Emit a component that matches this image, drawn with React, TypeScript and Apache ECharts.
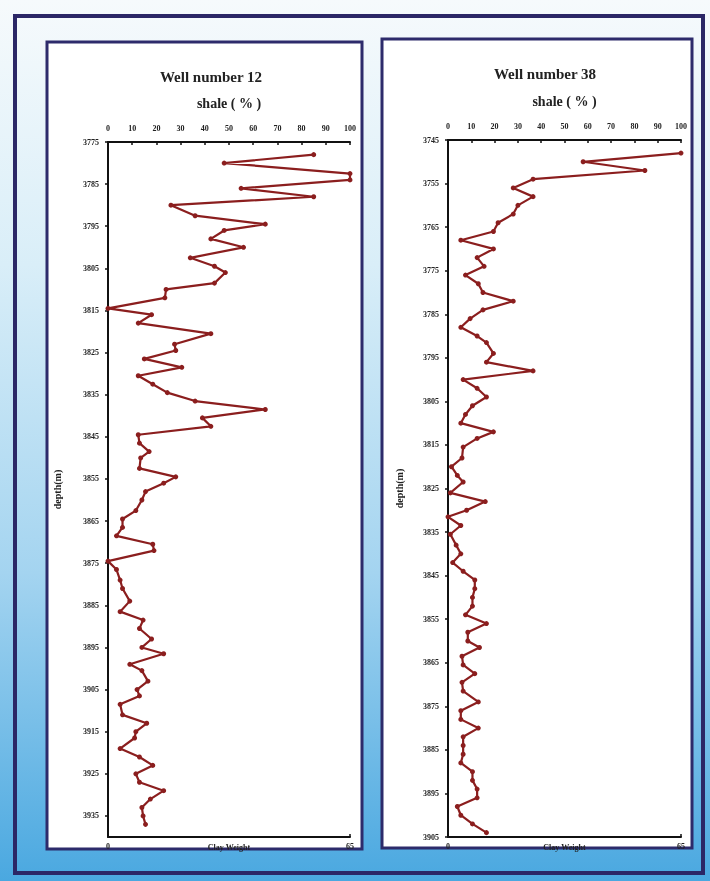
import React, { useEffect, useRef } from "react";
import * as echarts from "echarts";

// Well 12: depth (m) and shale (%)
const well12Depth = [
  3778, 3780, 3782.5, 3784, 3786, 3788, 3790, 3792.5, 3794.5, 3796, 3798, 3800, 3802.5, 3804.5, 3806, 3808.5,
  3810, 3812, 3814.5, 3816, 3818, 3820.5, 3823, 3824.5, 3826.5, 3828.5, 3830.5, 3832.5, 3834.5, 3836.5, 3838.5,
  3840.5, 3842.5, 3844.5, 3846.5, 3848.5, 3850, 3852.5, 3854.5, 3856, 3858, 3860, 3862.5, 3864.5, 3866.5, 3868.5,
  3870.5, 3872, 3874.5, 3876.5, 3879, 3881, 3884, 3886.5, 3888.5, 3890.5, 3893, 3895, 3896.5, 3899, 3900.5, 3903,
  3905, 3906.5, 3908.5, 3911, 3913, 3915, 3916.5, 3919, 3921, 3923, 3925, 3927, 3929, 3931, 3933, 3935, 3937,
];
const well12Shale = [
  85, 48, 100, 100, 55, 85, 26, 36, 65, 48, 42.5, 56, 34, 44, 48.5, 44,
  24, 23.5, 0, 18, 12.5, 42.5, 27.5, 28, 15, 30.5, 12.5, 18.5, 24.5, 36, 65,
  39, 42.5, 12.5, 13, 17, 13.5, 13, 28, 23, 15.5, 14, 11.5, 6, 6, 3.5,
  18.5, 19, 0, 3.5, 5, 6, 9, 5, 14.5, 13, 18, 14, 23, 9, 14, 16.5,
  12, 13, 5, 6, 16, 11.5, 11, 5, 13, 18.5, 11.5, 13, 23, 17.5, 14, 14.5, 15.5,
];

// Well 38: depth (m) and shale (%)
const well38Depth = [
  3748, 3750, 3752, 3754, 3756, 3758, 3760, 3762, 3764, 3766, 3768, 3770, 3772, 3774, 3776, 3778, 3780, 3782,
  3784, 3786, 3788, 3790, 3791.5, 3794, 3796, 3798, 3800, 3802, 3804, 3806, 3808, 3810, 3812, 3813.5, 3815.5,
  3818, 3820, 3822, 3823.5, 3826, 3828, 3830, 3831.5, 3833.5, 3835.5, 3838, 3840, 3842, 3844, 3846, 3848, 3850,
  3852, 3854, 3856, 3858, 3860, 3861.5, 3863.5, 3865.5, 3867.5, 3869.5, 3871.5, 3874, 3876, 3878, 3880, 3882,
  3884, 3886, 3888, 3890, 3892, 3894, 3896, 3898, 3900, 3902, 3904,
];
const well38Shale = [
  100, 58, 84.5, 36.5, 28, 36.5, 30, 28, 21.5, 19.5, 5.5, 19.5, 12.5, 15.5, 7.5, 13, 15, 28,
  15, 9.5, 5.5, 12.5, 16.5, 19.5, 16.5, 36.5, 6.5, 12.5, 16.5, 10.5, 7.5, 5.5, 19.5, 12.5, 6.5,
  6, 1.5, 4, 6.5, 1, 16, 8, 0, 5.5, 1, 3.5, 5.5, 2, 6.5, 11.5, 11.5, 10.5,
  10.5, 7.5, 16.5, 8.5, 8.5, 13.5, 6, 6.5, 11.5, 6, 6.5, 13, 5.5, 5.5, 13, 6.5,
  6.5, 6.5, 5.5, 10.5, 10.5, 12.5, 12.5, 4, 5.5, 10.5, 16.5,
];

const shaleTicks = { min: 0, max: 100, interval: 10 };
const clayTicks = { min: 0, max: 65, interval: 65 };
const well12Range = { min: 3775, max: 3940, interval: 10 };
const well38Range = { min: 3745, max: 3905, interval: 10 };

const SERIF = "'Liberation Serif', 'DejaVu Serif', serif";
const LINE_COLOR = "#8b1e1e";

function pairs(depth: number[], vals: number[]) {
  return depth.map((d, i) => [vals[i], d]);
}

const labelStyle = {
  fontFamily: SERIF,
  fontSize: 8,
  fontWeight: "bold" as const,
  color: "#222",
};

function topAxis(gridIndex: number) {
  return {
    type: "value",
    gridIndex,
    position: "top",
    ...shaleTicks,
    axisLine: { show: true, onZero: false, lineStyle: { color: "#111", width: 2 } },
    axisTick: { show: true, inside: true, length: 3, lineStyle: { color: "#111", width: 1.5 } },
    axisLabel: { ...labelStyle, margin: 10, formatter: (v: number) => String(v) },
    splitLine: { show: false },
    name: "shale ( % )",
    nameLocation: "middle",
    nameGap: 39,
    nameMoveOverlap: false,
    nameTextStyle: {
      fontFamily: SERIF,
      fontSize: 14,
      fontWeight: "bold",
      color: "#222",
      verticalAlign: "middle",
    },
  };
}

function bottomAxis(gridIndex: number) {
  return {
    type: "value",
    gridIndex,
    position: "bottom",
    ...clayTicks,
    axisLine: { show: true, onZero: false, lineStyle: { color: "#111", width: 2 } },
    axisTick: { show: true, inside: true, length: 3, lineStyle: { color: "#111", width: 1.5 } },
    axisLabel: { ...labelStyle, margin: 5, formatter: (v: number) => String(v) },
    splitLine: { show: false },
    name: "Clay Weight",
    nameLocation: "middle",
    nameGap: 10,
    nameMoveOverlap: false,
    nameTextStyle: { ...labelStyle, verticalAlign: "middle" },
  };
}

function depthAxis(gridIndex: number, range: { min: number; max: number; interval: number }, gap: number) {
  return {
    type: "value",
    gridIndex,
    inverse: true,
    ...range,
    axisLine: { show: true, onZero: false, lineStyle: { color: "#111", width: 2 } },
    axisTick: { show: true, length: 3, lineStyle: { color: "#111", width: 1.5 } },
    axisLabel: {
      ...labelStyle,
      margin: 9,
      showMaxLabel: range.max % range.interval === range.min % range.interval,
      formatter: (v: number) => String(v),
    },
    splitLine: { show: false },
    name: "depth(m)",
    nameLocation: "middle",
    nameGap: gap,
    nameRotate: 90,
    nameMoveOverlap: false,
    nameTextStyle: { fontFamily: SERIF, fontSize: 10, fontWeight: "bold", color: "#222" },
  };
}

export default function App() {
  const ref = useRef<HTMLDivElement>(null);
  useEffect(() => {
    if (!ref.current) return;
    const chart = echarts.init(ref.current, undefined, { renderer: "svg" });
    chart.setOption({
      animation: false,
      backgroundColor: "transparent",
      graphic: [
        {
          type: "rect",
          z: -10,
          shape: { x: 0, y: 0, width: 710, height: 881 },
          style: {
            fill: new echarts.graphic.LinearGradient(0, 0, 0, 1, [
              { offset: 0, color: "#f6fafc" },
              { offset: 0.3, color: "#d9eef8" },
              { offset: 0.65, color: "#a4d4f0" },
              { offset: 1, color: "#4aa8e0" },
            ]),
          },
        },
        {
          type: "rect",
          z: -9,
          shape: { x: 15, y: 16, width: 688, height: 857 },
          style: { fill: "none", stroke: "#2b2766", lineWidth: 4 },
        },
        {
          type: "rect",
          z: -8,
          shape: { x: 47, y: 42, width: 315, height: 807 },
          style: { fill: "#ffffff", stroke: "#2d2b6b", lineWidth: 3 },
        },
        {
          type: "rect",
          z: -8,
          shape: { x: 382, y: 39, width: 310, height: 809 },
          style: { fill: "#ffffff", stroke: "#2d2b6b", lineWidth: 3 },
        },
      ],
      title: [
        {
          text: "Well number 12",
          left: 206,
          top: 64,
          textAlign: "center",
          textStyle: { fontFamily: SERIF, fontSize: 15, fontWeight: "bold", color: "#222" },
        },
        {
          text: "Well number 38",
          left: 540,
          top: 61,
          textAlign: "center",
          textStyle: { fontFamily: SERIF, fontSize: 15, fontWeight: "bold", color: "#222" },
        },
      ],
      grid: [
        { left: 108, top: 142, width: 242, height: 695, containLabel: false },
        { left: 448, top: 140, width: 233, height: 697, containLabel: false },
      ],
      xAxis: [topAxis(0), bottomAxis(0), topAxis(1), bottomAxis(1)],
      yAxis: [depthAxis(0, well12Range, 46), depthAxis(1, well38Range, 44)],
      series: [
        {
          type: "line",
          name: "Well 12",
          xAxisIndex: 0,
          yAxisIndex: 0,
          data: pairs(well12Depth, well12Shale),
          symbol: "circle",
          symbolSize: 5,
          lineStyle: { color: LINE_COLOR, width: 2.2 },
          itemStyle: { color: LINE_COLOR },
        },
        {
          type: "line",
          name: "Well 38",
          xAxisIndex: 2,
          yAxisIndex: 1,
          data: pairs(well38Depth, well38Shale),
          symbol: "circle",
          symbolSize: 5,
          lineStyle: { color: LINE_COLOR, width: 2.2 },
          itemStyle: { color: LINE_COLOR },
        },
      ],
    });
    return () => chart.dispose();
  }, []);
  return (
    <div
      ref={ref}
      style={{ position: "fixed", left: 0, top: 0, width: 710, height: 881 }}
    />
  );
}
